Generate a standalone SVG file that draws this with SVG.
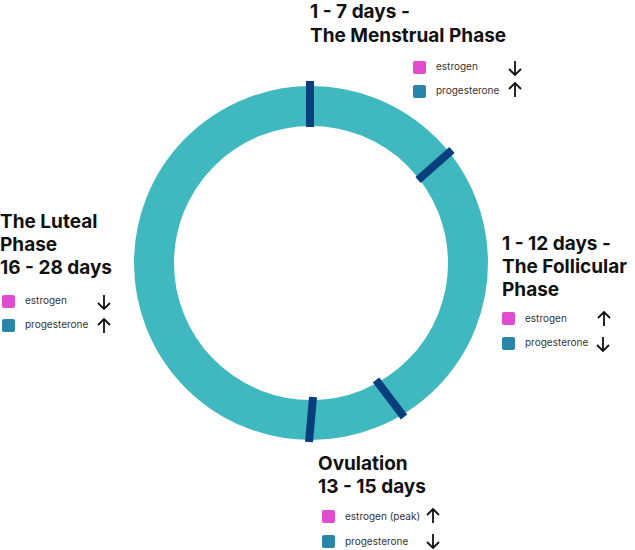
<svg xmlns="http://www.w3.org/2000/svg" width="635" height="550" viewBox="0 0 635 550">
<style>
.t{font-family:Inter,"Noto Sans","Liberation Sans",sans-serif;font-weight:700;font-size:19px;fill:#111;}
.l{font-family:Inter,"Noto Sans","Liberation Sans",sans-serif;font-size:10px;fill:#333;}
.e{fill:#E04BD0;}
.p{fill:#2A86A8;}
.ar{fill:none;stroke:#111;stroke-width:1.8;stroke-linecap:butt;}
.tk{stroke:#063F7E;stroke-width:8;}
</style>
<defs>
<path id="up" class="ar" d="M0,7 V-7 M-6,-1 L0,-7 L6,-1"/>
<path id="dn" class="ar" d="M0,-7 V7 M-6,1 L0,7 L6,1"/>
</defs>
<g id="ring">
<circle cx="311" cy="263" r="157" fill="none" stroke="#3FB9BF" stroke-width="40"/>
</g>
<g id="connectors">
<line class="tk" x1="310" y1="81" x2="310" y2="127"/>
<line class="tk" x1="418" y1="180" x2="452" y2="150"/>
<line class="tk" x1="376" y1="380" x2="404" y2="417"/>
<line class="tk" x1="313" y1="397" x2="309" y2="442"/>
</g>
<g id="menstrual">
<text class="t" x="310" y="18">1 - 7 days -</text>
<text class="t" x="310" y="42">The Menstrual Phase</text>
<rect class="e" x="413" y="61" width="13" height="13" rx="2"/>
<text class="l" x="436" y="70">estrogen</text>
<use href="#dn" x="515" y="68"/>
<rect class="p" x="413" y="85" width="13" height="13" rx="2"/>
<text class="l" x="436" y="94">progesterone</text>
<use href="#up" x="515" y="90"/>
</g>
<g id="follicular">
<text class="t" x="502" y="250">1 - 12 days -</text>
<text class="t" x="502" y="273">The Follicular</text>
<text class="t" x="502" y="296">Phase</text>
<rect class="e" x="502" y="312" width="13" height="13" rx="2"/>
<text class="l" x="525" y="322">estrogen</text>
<use href="#up" x="604" y="319"/>
<rect class="p" x="502" y="337" width="13" height="13" rx="2"/>
<text class="l" x="525" y="346">progesterone</text>
<use href="#dn" x="603" y="344"/>
</g>
<g id="ovulation">
<text class="t" x="318" y="470">Ovulation</text>
<text class="t" x="318" y="493">13 - 15 days</text>
<rect class="e" x="322" y="510" width="13" height="13" rx="2"/>
<text class="l" x="345" y="520">estrogen (peak)</text>
<use href="#up" x="433" y="516"/>
<rect class="p" x="322" y="535" width="13" height="13" rx="2"/>
<text class="l" x="345" y="545">progesterone</text>
<use href="#dn" x="433" y="541"/>
</g>
<g id="luteal">
<text class="t" x="0" y="228">The Luteal</text>
<text class="t" x="0" y="251">Phase</text>
<text class="t" x="0" y="274">16 - 28 days</text>
<rect class="e" x="2" y="295" width="13" height="13" rx="2"/>
<text class="l" x="25" y="304">estrogen</text>
<use href="#dn" x="104" y="302"/>
<rect class="p" x="2" y="319" width="13" height="13" rx="2"/>
<text class="l" x="25" y="328">progesterone</text>
<use href="#up" x="104" y="326"/>
</g>
</svg>
